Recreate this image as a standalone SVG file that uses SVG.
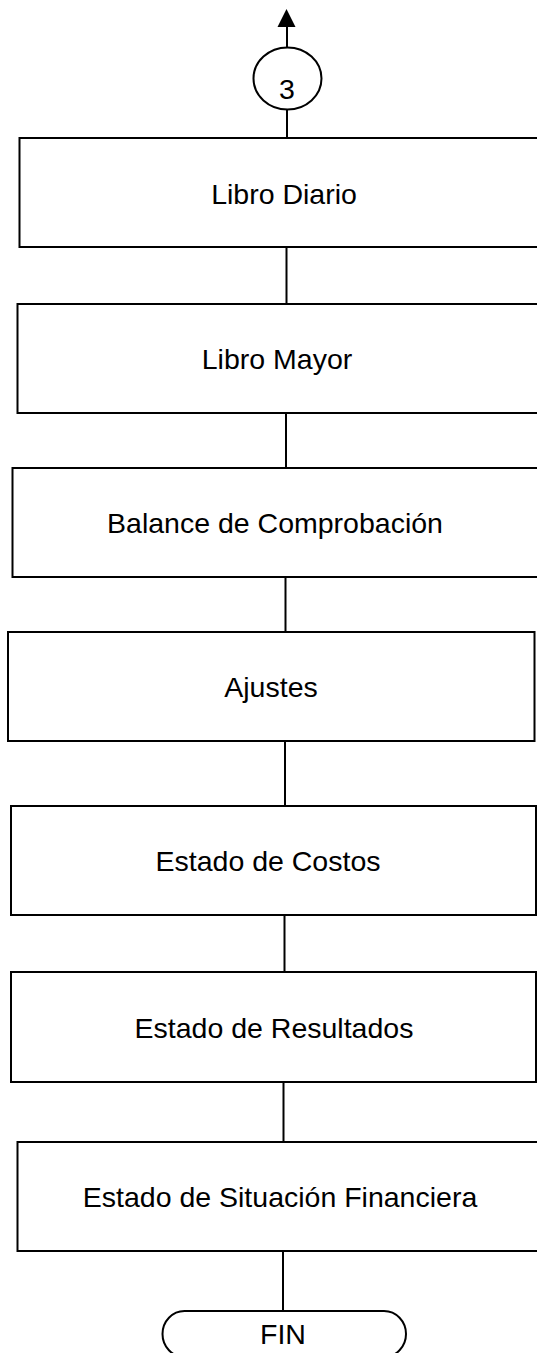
<svg xmlns="http://www.w3.org/2000/svg" width="537" height="1353" viewBox="0 0 537 1353">
<style>
.box{fill:#fff;stroke:#000;stroke-width:2}
.ln{fill:none;stroke:#000;stroke-width:2}
.t{font-family:"Liberation Sans",Arial,sans-serif;font-size:28.5px;fill:#000;text-anchor:middle}
</style>
<defs>
<path id="arrowhead" d="M-9,18 L0,0 L9,18 Z" fill="#000"/>
</defs>
<rect width="537" height="1353" fill="#fff"/>
<g id="connectors">
<line class="ln" x1="287" y1="47" x2="287" y2="26"/>
<use href="#arrowhead" x="286.5" y="9"/>
<line class="ln" x1="287" y1="109" x2="287" y2="138"/>
<line class="ln" x1="286.5" y1="247" x2="286.5" y2="304"/>
<line class="ln" x1="286" y1="413" x2="286" y2="468"/>
<line class="ln" x1="285.5" y1="577" x2="285.5" y2="632"/>
<line class="ln" x1="285" y1="741" x2="285" y2="806"/>
<line class="ln" x1="284.5" y1="915" x2="284.5" y2="972"/>
<line class="ln" x1="283.5" y1="1082" x2="283.5" y2="1142"/>
<line class="ln" x1="283" y1="1251" x2="283" y2="1311"/>
</g>
<g id="n3">
<ellipse class="box" cx="287.5" cy="78.5" rx="34" ry="31"/>
<text class="t" x="287" y="98.5">3</text>
</g>
<g id="libro-diario">
<rect class="box" x="19.5" y="138" width="530" height="109"/>
<text class="t" x="284" y="203.5">Libro Diario</text>
</g>
<g id="libro-mayor">
<rect class="box" x="17.5" y="304" width="530" height="109"/>
<text class="t" x="277" y="369">Libro Mayor</text>
</g>
<g id="balance">
<rect class="box" x="12.5" y="468" width="535" height="109"/>
<text class="t" x="275" y="533">Balance de Comprobación</text>
</g>
<g id="ajustes">
<rect class="box" x="8" y="632" width="526.5" height="109"/>
<text class="t" x="271" y="697">Ajustes</text>
</g>
<g id="estado-costos">
<rect class="box" x="11" y="806" width="525" height="109"/>
<text class="t" x="268" y="871">Estado de Costos</text>
</g>
<g id="estado-resultados">
<rect class="box" x="11" y="972" width="525" height="110"/>
<text class="t" x="274" y="1037.5">Estado de Resultados</text>
</g>
<g id="estado-situacion">
<rect class="box" x="17.5" y="1142" width="530" height="109"/>
<text class="t" x="280" y="1207">Estado de Situación Financiera</text>
</g>
<g id="fin">
<rect class="box" x="162.5" y="1311" width="243.5" height="46" rx="22" ry="23"/>
<text class="t" x="283" y="1344">FIN</text>
</g>
</svg>
